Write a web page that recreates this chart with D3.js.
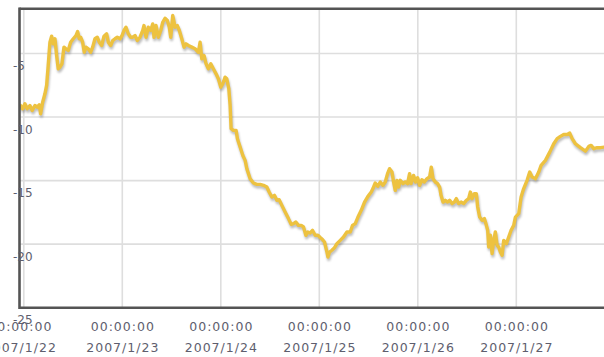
<!DOCTYPE html>
<html>
<head>
<meta charset="utf-8">
<script src="https://cdn.jsdelivr.net/npm/d3@7"></script>
<style>
  html, body { margin: 0; padding: 0; background: #fff; overflow: hidden; }
  svg { display: block; }
</style>
</head>
<body>
<svg id="chart" width="604" height="357"></svg>
<script>
// Temperature readings, hours counted from 2007-01-22 00:00
const startDay = Date.UTC(2007, 0, 22);
const hours = [
  -0.95, -0.29, 0.27, 0.83, 1.49, 2.05, 2.71, 3.27, 3.76, 4.10,
  4.59, 5.15, 5.56, 5.95, 6.37, 6.78, 7.17, 7.59, 8.00, 8.39,
  8.80, 9.29, 9.78, 10.27, 10.83, 11.41, 12.05, 12.71, 13.12, 13.51,
  13.85, 14.34, 14.73, 15.15, 15.71, 16.29, 16.78, 17.34, 17.90, 18.39,
  18.98, 19.54, 20.19, 20.59, 21.17, 21.66, 22.22, 22.78, 23.44, 23.93,
  24.41, 24.90, 25.46, 26.05, 26.54, 27.10, 27.66, 28.32, 28.98, 29.29,
  29.78, 30.34, 30.93, 31.41, 31.73, 32.22, 32.78, 33.37, 33.85, 34.41,
  34.98, 35.46, 35.80, 36.29, 36.85, 37.41, 37.90, 38.49, 39.05, 39.54,
  40.10, 40.93, 41.73, 42.54, 42.95, 43.37, 43.93, 44.41, 44.98, 45.56,
  46.19, 46.85, 47.41, 48.00, 48.49, 49.05, 49.46, 49.95, 50.27, 50.51,
  51.07, 51.73, 52.05, 52.71, 53.37, 53.93, 54.34, 55.15, 55.95, 56.78,
  57.59, 58.39, 59.22, 59.78, 60.44, 61.07, 61.66, 62.22, 62.88, 63.68,
  64.49, 65.15, 65.71, 66.29, 66.93, 67.59, 68.15, 68.73, 69.22, 69.78,
  70.34, 71.00, 71.66, 72.22, 72.78, 73.27, 73.86, 74.10, 74.49, 75.07,
  75.71, 76.29, 77.10, 77.90, 78.73, 79.54, 80.10, 80.76, 81.42, 82.22,
  83.02, 83.85, 84.66, 85.07, 85.63, 86.24, 86.85, 87.51, 88.07, 88.63,
  89.12, 89.71, 90.10, 90.51, 90.93, 91.32, 91.73, 92.39, 92.95, 93.51,
  94.00, 94.34, 94.98, 95.46, 95.95, 96.44, 97.02, 97.58, 98.24, 98.88,
  99.29, 99.71, 100.27, 100.83, 101.32, 101.66, 102.15, 102.71, 103.27, 103.76,
  104.34, 104.90, 105.39, 105.95, 106.54, 107.17, 107.83, 108.39, 108.81, 109.22,
  109.78, 110.27, 110.59, 111.07, 111.66, 112.22, 112.71, 113.03, 113.27, 113.68,
  114.10, 114.49, 114.90, 115.32, 115.71, 116.12, 116.54, 116.93, 117.59, 118.15,
  118.73, 119.37, 119.78, 120.59, 121.17, 121.80, 122.63, 123.27, 123.85, 124.66,
  125.46, 126.05, 127.10, 128.15, 129.12, 129.95, 130.75, 131.56, 132.39, 133.02,
  133.61, 134.41, 135.63, 136.85, 137.66, 138.24, 138.88, 139.71, 140.51, 141.49,
  143.00
];
const temps = [
  -9.03, -9.35, -8.95, -9.35, -9.09, -9.48, -9.09, -9.22, -9.03, -9.74,
  -8.83, -8.17, -7.51, -5.94, -4.11, -3.64, -4.24, -3.84, -5.16, -6.20,
  -6.08, -5.81, -4.50, -4.63, -4.76, -4.11, -3.84, -3.59, -3.27, -3.84,
  -3.72, -4.11, -4.90, -4.50, -4.63, -4.90, -4.50, -3.84, -3.72, -4.11,
  -4.37, -3.64, -3.45, -4.11, -4.37, -3.98, -3.84, -3.72, -3.84, -3.59,
  -3.19, -2.93, -3.45, -3.72, -3.72, -3.59, -3.98, -3.72, -3.19, -2.80,
  -3.72, -2.93, -3.19, -2.67, -3.72, -2.80, -3.72, -3.19, -2.54, -2.23,
  -2.41, -2.93, -3.72, -2.01, -2.93, -2.80, -3.19, -3.84, -4.50, -4.24,
  -4.37, -4.50, -4.63, -4.90, -4.11, -5.42, -5.16, -5.81, -6.20, -5.81,
  -6.20, -6.60, -6.99, -7.65, -7.38, -6.86, -6.99, -7.77, -9.09, -10.92,
  -11.05, -11.05, -11.70, -12.36, -13.02, -13.41, -14.06, -14.85, -15.19, -15.30,
  -15.30, -15.37, -15.51, -15.90, -16.29, -16.16, -16.55, -16.50, -16.95, -17.47,
  -17.99, -18.44, -18.38, -18.26, -18.52, -18.52, -18.65, -19.30, -19.04, -19.12,
  -18.91, -19.30, -19.30, -19.48, -19.64, -19.83, -20.62, -21.01, -20.62, -20.48,
  -20.27, -19.96, -19.70, -19.44, -19.04, -19.04, -18.52, -18.38, -17.87, -17.34,
  -16.69, -16.24, -15.90, -15.63, -15.19, -15.45, -15.11, -15.37, -15.11, -14.45,
  -14.06, -14.33, -15.11, -15.77, -14.98, -15.51, -14.98, -15.24, -15.11, -15.24,
  -14.45, -15.24, -14.59, -15.11, -14.77, -15.37, -14.93, -15.11, -14.85, -14.72,
  -13.94, -14.85, -15.11, -15.24, -15.51, -16.16, -16.69, -16.55, -16.69, -16.55,
  -16.81, -16.69, -16.42, -16.81, -16.69, -16.81, -16.55, -16.42, -15.90, -16.42,
  -16.03, -16.03, -17.08, -17.87, -18.12, -17.99, -18.52, -18.91, -20.22, -19.30,
  -20.74, -19.70, -19.04, -20.09, -20.22, -20.62, -20.88, -19.70, -19.96, -19.44,
  -18.91, -18.52, -17.87, -17.60, -16.29, -15.63, -14.98, -14.33, -14.72, -14.85,
  -14.33, -13.80, -13.41, -12.76, -12.10, -11.70, -11.52, -11.37, -11.37, -11.26,
  -11.70, -12.10, -12.41, -12.68, -12.31, -12.23, -12.49, -12.41, -12.41, -12.36,
  -12.40
];
const dayLabels = ["2007/1/22", "2007/1/23", "2007/1/24", "2007/1/25", "2007/1/26", "2007/1/27"];
const timeLabel = "00:00:00";
const yTicks = [-5, -10, -15, -20, -25];

const HOUR = 3600 * 1000;
const series = hours.map((h, i) => ({ t: new Date(startDay + h * HOUR), v: temps[i] }));
const dayDates = dayLabels.map((_, i) => new Date(startDay + i * 24 * HOUR));

const plot = { left: 19.5, top: 8.7, right: 640, bottom: 307.7 };

const x = d3.scaleUtc()
  .domain([dayDates[0], dayDates[5]])
  .range([23.8, 516.3]);
const y = d3.scaleLinear()
  .domain([-25, -5])
  .range([307.7, 53.5]);

const svg = d3.select("#chart");
const defs = svg.append("defs");
defs.append("clipPath").attr("id", "plotClip")
  .append("rect")
  .attr("x", plot.left).attr("y", plot.top)
  .attr("width", plot.right - plot.left).attr("height", plot.bottom - plot.top);
defs.append("filter").attr("id", "soft")
  .attr("x", "-5%").attr("y", "-5%").attr("width", "110%").attr("height", "110%")
  .append("feGaussianBlur").attr("stdDeviation", 0.9);

// grid
const grid = svg.append("g").attr("class", "grid")
  .attr("stroke", "#dedede").attr("stroke-width", 1.6);
grid.selectAll("line.h").data(yTicks).join("line").attr("class", "h")
  .attr("x1", plot.left).attr("x2", plot.right)
  .attr("y1", d => y(d)).attr("y2", d => y(d));
grid.selectAll("line.v").data(dayDates).join("line").attr("class", "v")
  .attr("x1", d => x(d)).attr("x2", d => x(d))
  .attr("y1", plot.top).attr("y2", plot.bottom);

// series line with drop shadow
const line = d3.line().x(d => x(d.t)).y(d => y(d.v)).curve(d3.curveLinear);
const lines = svg.append("g").attr("clip-path", "url(#plotClip)");
lines.append("path").datum(series)
  .attr("d", line)
  .attr("fill", "none")
  .attr("stroke", "rgba(0,0,0,0.26)")
  .attr("stroke-width", 3.4)
  .attr("stroke-linejoin", "round")
  .attr("transform", "translate(0.8,2.4)")
  .attr("filter", "url(#soft)");
lines.append("path").datum(series)
  .attr("d", line)
  .attr("fill", "none")
  .attr("stroke", "#edc240")
  .attr("stroke-width", 3.4)
  .attr("stroke-linejoin", "round");

// frame
const frame = svg.append("g").attr("stroke", "#545454").attr("stroke-width", 2.6).attr("fill", "none");
frame.append("line").attr("x1", plot.left).attr("x2", plot.left).attr("y1", plot.top - 1.3).attr("y2", plot.bottom + 1.3);
frame.append("line").attr("x1", plot.left).attr("x2", plot.right).attr("y1", plot.top).attr("y2", plot.top);
frame.append("line").attr("x1", plot.left).attr("x2", plot.right).attr("y1", plot.bottom).attr("y2", plot.bottom);

// y axis labels
const yAxis = d3.axisLeft(y).tickValues(yTicks).tickSize(0).tickFormat(d => String(d));
const yg = svg.append("g").attr("transform", `translate(${plot.left},0)`).call(yAxis);
yg.select(".domain").remove();
yg.selectAll("text")
  .attr("x", -6.5).attr("dy", null).attr("y", 16.3)
  .attr("text-anchor", "start")
  .attr("fill", "#5e5e6e")
  .style("font-family", "'DejaVu Sans', Verdana, sans-serif")
  .style("font-size", "12px");

// x axis labels: time on the first line, date on the second
const xAxis = d3.axisBottom(x).tickValues(dayDates).tickSize(0).tickFormat(() => "");
const xg = svg.append("g").attr("transform", `translate(0,${plot.bottom})`).call(xAxis);
xg.select(".domain").remove();
xg.selectAll(".tick text").each(function(d, i) {
  // the leftmost label sits a little further out, past the frame edge
  const shift = i === 0 ? -4 : 0;
  const t = d3.select(this)
    .attr("y", 0).attr("dy", null)
    .attr("text-anchor", "middle")
    .attr("fill", "#5e5e6e")
    .style("font-family", "'DejaVu Sans', Verdana, sans-serif")
    .style("font-size", "12.5px")
    .style("letter-spacing", "1px");
  t.append("tspan").attr("x", shift).attr("y", 23.3).text(timeLabel);
  t.append("tspan").attr("x", shift).attr("y", 44).text(dayLabels[i]);
});
</script>
</body>
</html>
